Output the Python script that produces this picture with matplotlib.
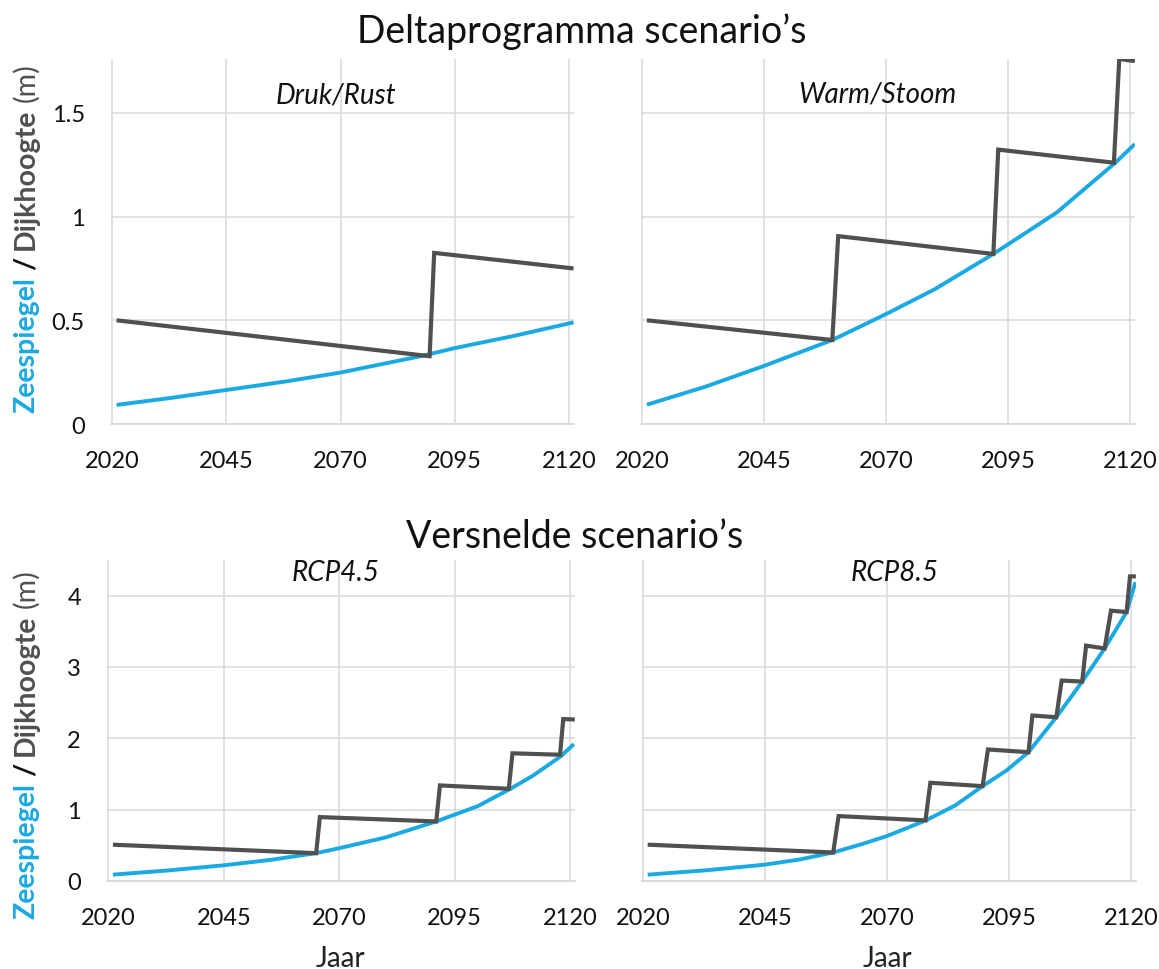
import matplotlib
matplotlib.use("Agg")
import matplotlib.pyplot as plt

plt.rcParams['font.family'] = ['Lato', 'DejaVu Sans']

BLUE = "#1BA9E3"
GRAY = "#505050"
GRID = "#D9D9D9"

xticks = [2020, 2045, 2070, 2095, 2120]

# Druk/Rust
sea_dr_years = [2021, 2033, 2045, 2058, 2070, 2088, 2095, 2108, 2121]
sea_dr = [0.092, 0.126, 0.164, 0.205, 0.248, 0.329, 0.366, 0.425, 0.490]
dike_dr_years = [2021, 2089.5, 2090.5, 2121]
dike_dr = [0.50, 0.327, 0.825, 0.75]

# Warm/Stoom
sea_ws_years = [2021, 2033, 2045, 2059, 2070, 2080, 2092, 2105, 2117, 2121]
sea_ws = [0.093, 0.18, 0.28, 0.405, 0.53, 0.65, 0.82, 1.02, 1.26, 1.35]
dike_ws_years = [2021, 2059, 2060.2, 2092, 2093, 2116.7, 2117.8, 2121]
dike_ws = [0.50, 0.405, 0.906, 0.82, 1.323, 1.26, 1.76, 1.75]

# RCP4.5
sea_45_years = [2021, 2033, 2045, 2055, 2065, 2070, 2080, 2091, 2100, 2107, 2112, 2118, 2120.8]
sea_45 = [0.089, 0.148, 0.22, 0.295, 0.39, 0.46, 0.61, 0.835, 1.05, 1.29, 1.48, 1.75, 1.92]
dike_45_years = [2021, 2065, 2065.8, 2091, 2091.8, 2106.7, 2107.5, 2117.8, 2118.5, 2121]
dike_45 = [0.509, 0.39, 0.896, 0.835, 1.34, 1.293, 1.79, 1.77, 2.27, 2.264]

# RCP8.5
sea_85_years = [2021, 2033, 2045, 2052, 2059, 2065, 2070, 2078, 2084, 2089.6, 2094.5,
                2099, 2104.7, 2110, 2114.6, 2119.1, 2120.9]
sea_85 = [0.089, 0.15, 0.229, 0.30, 0.40, 0.52, 0.63, 0.85, 1.06, 1.33, 1.55,
          1.806, 2.296, 2.796, 3.26, 3.77, 4.19]
dike_85_years = [2021, 2059, 2060.1, 2077.9, 2078.9, 2089.6, 2090.7, 2099, 2099.8, 2104.7,
                 2105.8, 2110, 2110.8, 2114.6, 2115.9, 2119.1, 2119.8, 2121]
dike_85 = [0.509, 0.40, 0.91, 0.85, 1.377, 1.33, 1.844, 1.806, 2.32, 2.296,
           2.81, 2.796, 3.30, 3.26, 3.79, 3.77, 4.27, 4.27]

W, H = 1159, 970
X0, X1 = 2019.8, 2121
fig = plt.figure(figsize=(W / 100, H / 100), dpi=100)


def px_axes(g2020, g2120, y0, y1):
    # place axes so that the 2020 and 2120 gridlines land on the given pixels
    ppy = (g2120 - g2020) / 100
    left = g2020 - (2020 - X0) * ppy
    right = g2120 + (X1 - 2120) * ppy
    return fig.add_axes([left / W, 1 - y1 / H, (right - left) / W, (y1 - y0) / H])


panels = [
    (px_axes(112, 569, 60, 425), sea_dr_years, sea_dr, dike_dr_years, dike_dr, "Druk/Rust",
     336, 104, (0, 1.76), [0, 0.5, 1, 1.5], ["0", "0.5", "1", "1.5"], True),
    (px_axes(642, 1130, 60, 425), sea_ws_years, sea_ws, dike_ws_years, dike_ws, "Warm/Stoom",
     877, 102, (0, 1.76), [0, 0.5, 1, 1.5], None, False),
    (px_axes(108.3, 570.2, 561, 882), sea_45_years, sea_45, dike_45_years, dike_45, "RCP4.5",
     336, 581, (0, 4.5), [0, 1, 2, 3, 4], ["0", "1", "2", "3", "4"], True),
    (px_axes(642.8, 1131, 561, 882), sea_85_years, sea_85, dike_85_years, dike_85, "RCP8.5",
     895, 581, (0, 4.5), [0, 1, 2, 3, 4], None, False),
]

for ax, sy, sv, dy, dv, name, tx, ty, ylim, yt, ytl, show_y in panels:
    ax.plot(sy, sv, color=BLUE, lw=2.8, solid_capstyle="butt", zorder=3)
    ax.plot(dy, dv, color=GRAY, lw=3.0, solid_joinstyle="miter", solid_capstyle="butt", zorder=4)
    ax.set_xlim(X0, X1)
    ax.set_ylim(*ylim)
    ax.set_xticks(xticks)
    ax.set_yticks(yt)
    ax.grid(True, color=GRID, lw=1.1)
    ax.set_axisbelow(True)
    for s in ["top", "right", "left"]:
        ax.spines[s].set_visible(False)
    ax.spines["bottom"].set_color(GRID)
    ax.spines["bottom"].set_linewidth(1.3)
    ax.tick_params(length=0, labelsize=17, colors="#111111")
    ax.tick_params(axis="x", pad=19)
    if show_y:
        ax.set_yticklabels(ytl)
        ax.tick_params(axis="y", pad=19)
    else:
        ax.set_yticklabels([])
    fig.text(tx / W, 1 - ty / H, name, ha="center", va="baseline",
             fontsize=20, style="italic", color="#111111")

fig.text(582 / W, 1 - 42.7 / H, "Deltaprogramma scenario\u2019s", ha="center", va="baseline",
         fontsize=27, color="#111111")
fig.text(575 / W, 1 - 548 / H, "Versnelde scenario\u2019s", ha="center", va="baseline",
         fontsize=27, color="#111111")
fig.text(340.6 / W, 1 - 967 / H, "Jaar", ha="center", va="baseline", fontsize=20, color="#222222")
fig.text(887.5 / W, 1 - 967 / H, "Jaar", ha="center", va="baseline", fontsize=20, color="#222222")

# multi-coloured y label
pieces = [("Zeespiegel", BLUE, "bold"), ("/", "#111111", "bold"),
          ("Dijkhoogte", GRAY, "bold"), ("(m)", GRAY, "normal")]
renderer = fig.canvas.get_renderer()
gap = 7
for yc in [238, 744]:
    texts = []
    for s, c, w in pieces:
        t = fig.text(26 / W, 0, s, rotation=90, ha="center", va="bottom",
                     fontsize=20.5, color=c, fontweight=w)
        texts.append(t)
    heights = [t.get_window_extent(renderer).height for t in texts]
    total = sum(heights) + gap * (len(texts) - 1)
    ypos = (H - yc) - total / 2
    for t, h in zip(texts, heights):
        t.set_y(ypos / H)
        ypos += h + gap

fig.savefig("out.png", dpi=100)
